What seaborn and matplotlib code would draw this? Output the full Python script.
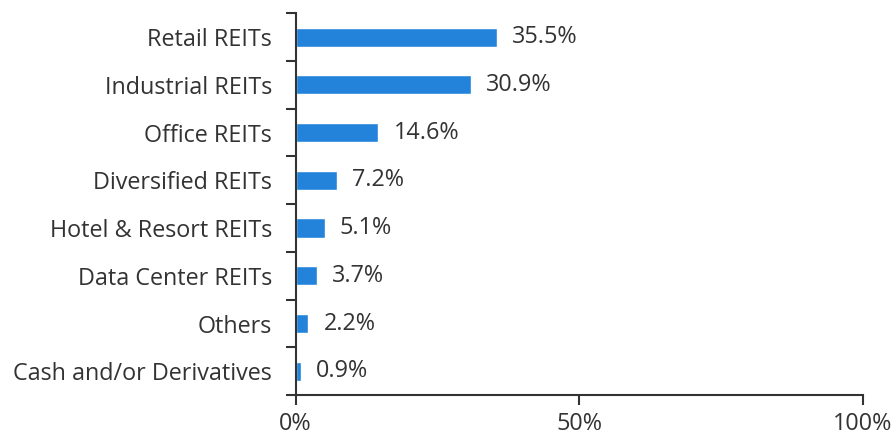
import matplotlib
matplotlib.use("Agg")
import matplotlib.pyplot as plt
import seaborn as sns
import numpy as np
import pandas as pd

categories = ["Retail REITs", "Industrial REITs", "Office REITs", "Diversified REITs",
              "Hotel & Resort REITs", "Data Center REITs", "Others", "Cash and/or Derivatives"]
weights = [35.5, 30.9, 14.6, 7.2, 5.1, 3.7, 2.2, 0.9]
x_ticks = [0, 50, 100]
x_tick_labels = ["0%", "50%", "100%"]

df = pd.DataFrame({"category": categories, "weight": weights})

sns.set_style("white")
plt.rcParams["font.family"] = ["Open Sans", "DejaVu Sans"]

dark = "#333333"
fs = 16.8
fig = plt.figure(figsize=(8.96, 4.4), dpi=100)
ax = fig.add_axes([0.330, 0.102, 0.633, 0.868])

sns.barplot(data=df, x="weight", y="category", orient="h", color="#2383DB",
            saturation=1, width=0.4, ax=ax)

for c in ax.containers:
    ax.bar_label(c, labels=[f"{v:.1f}%" for v in weights], padding=11,
                 fontsize=fs, color=dark)

ax.set_xlim(0, 100)
ax.set_ylim(7.5, -0.5)
ax.set_xticks(x_ticks)
ax.set_xticklabels(x_tick_labels, fontsize=fs, color=dark)
ax.set_yticks(range(len(categories)))
ax.set_yticklabels(categories, fontsize=fs, color=dark)
ax.set_yticks(np.arange(-0.5, len(categories), 1), minor=True)
ax.tick_params(axis="y", which="major", length=0, pad=17)
ax.tick_params(axis="y", which="minor", length=7, width=1.5, color=dark, direction="out", left=True)
ax.tick_params(axis="x", length=7, width=1.5, color=dark, direction="out", bottom=True, pad=5)
ax.set_xlabel("")
ax.set_ylabel("")

for s in ["top", "right"]:
    ax.spines[s].set_visible(False)
for s in ["left", "bottom"]:
    ax.spines[s].set_color(dark)
    ax.spines[s].set_linewidth(1.5)

fig.savefig("out.png", dpi=100)
